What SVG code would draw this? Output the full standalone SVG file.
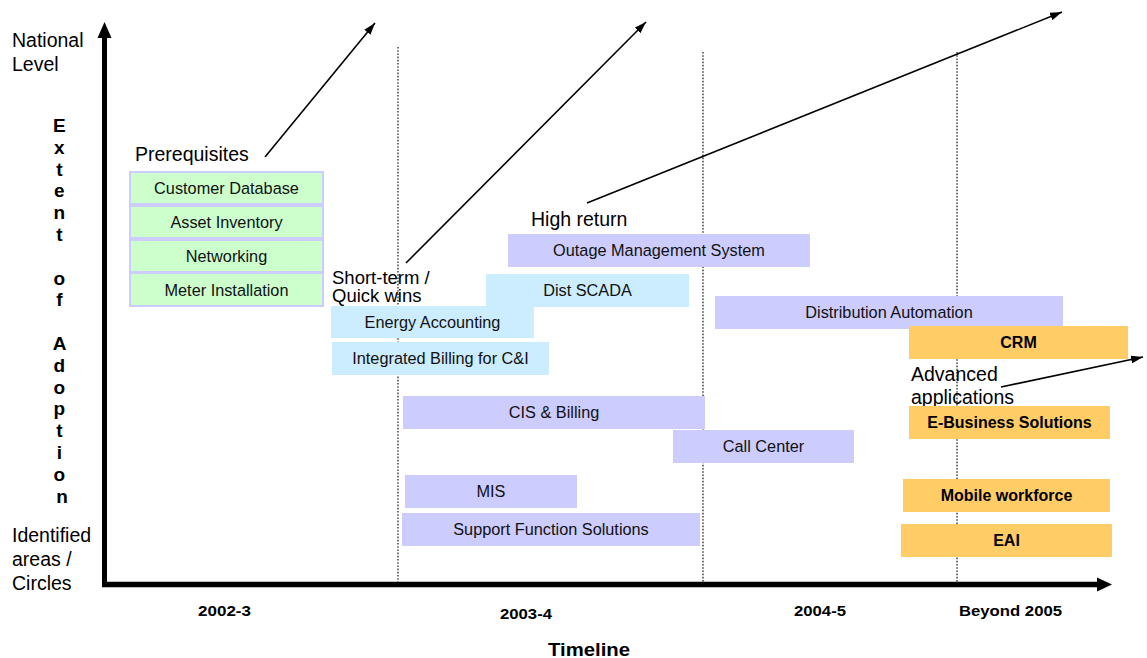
<svg xmlns="http://www.w3.org/2000/svg" width="1147" height="658" viewBox="0 0 1147 658">
  <defs>
    <marker id="head" viewBox="0 0 12 8" refX="12" refY="4" markerWidth="12" markerHeight="8" markerUnits="userSpaceOnUse" orient="auto">
      <path d="M0,0 L12,4 L0,8 Z" fill="#000"/>
    </marker>
    <style>
      text { font-family: "Liberation Sans", Arial, sans-serif; fill: #000; }
      .lbl { font-size: 19.5px; }
      .lbl-tight { font-size: 18.5px; }
      .axis-v { font-size: 19px; font-weight: bold; }
      .yr { font-size: 15.5px; font-weight: bold; }
      .box-t { font-size: 16.3px; text-anchor: middle; fill: #111; }
      .box-b { font-size: 16px; font-weight: bold; text-anchor: middle; }
      .green { fill: #CCFFCC; stroke: #CCCCFF; stroke-width: 2; }
      .blue { fill: #CCECFF; }
      .lav { fill: #CCCCFF; }
      .orange { fill: #FFCC66; }
      .grid { stroke: #000; stroke-width: 1.1; stroke-dasharray: 1.6 1.6; fill: none; }
      .trend { stroke: #000; stroke-width: 1.6; fill: none; marker-end: url(#head); }
    </style>
  </defs>

  <rect width="1147" height="658" fill="#fff"/>

  <!-- period separators -->
  <g id="grid">
    <line class="grid" x1="398" y1="47" x2="398" y2="584"/>
    <line class="grid" x1="703" y1="52" x2="703" y2="584"/>
    <line class="grid" x1="957" y1="52" x2="957" y2="584"/>
  </g>

  <!-- axes -->
  <g id="axes">
    <line x1="104.5" y1="587" x2="104.5" y2="36" stroke="#000" stroke-width="5"/>
    <polygon points="104.5,22 97.5,38 111.5,38" fill="#000"/>
    <line x1="102" y1="584.5" x2="1098" y2="584.5" stroke="#000" stroke-width="5.5"/>
    <polygon points="1112,584.5 1097,577.5 1097,591.5" fill="#000"/>
  </g>

  <!-- axis titles -->
  <g id="axis-labels">
    <text class="lbl" x="12" y="47">National</text>
    <text class="lbl" x="12" y="71">Level</text>
    <text class="lbl" x="12" y="542">Identified</text>
    <text class="lbl" x="12" y="566">areas /</text>
    <text class="lbl" x="12" y="590">Circles</text>
    <text class="axis-v" text-anchor="middle">
      <tspan x="62" y="132">E</tspan>
      <tspan x="62" y="153.8">x</tspan>
      <tspan x="62" y="175.6">t</tspan>
      <tspan x="62" y="197.4">e</tspan>
      <tspan x="62" y="219.2">n</tspan>
      <tspan x="62" y="241">t</tspan>
      <tspan x="62" y="284.6">o</tspan>
      <tspan x="62" y="306.4">f</tspan>
      <tspan x="62" y="350">A</tspan>
      <tspan x="62" y="371.8">d</tspan>
      <tspan x="62" y="393.6">o</tspan>
      <tspan x="62" y="415.4">p</tspan>
      <tspan x="62" y="437.2">t</tspan>
      <tspan x="62" y="459">i</tspan>
      <tspan x="62" y="480.8">o</tspan>
      <tspan x="62" y="502.6">n</tspan>
    </text>
    <text class="yr" x="198" y="616" textLength="53" lengthAdjust="spacingAndGlyphs">2002-3</text>
    <text class="yr" x="500" y="619" textLength="52" lengthAdjust="spacingAndGlyphs">2003-4</text>
    <text class="yr" x="794" y="616" textLength="52" lengthAdjust="spacingAndGlyphs">2004-5</text>
    <text class="yr" x="959" y="616" textLength="103" lengthAdjust="spacingAndGlyphs">Beyond 2005</text>
    <text x="548" y="656" font-size="19" font-weight="bold" textLength="82" lengthAdjust="spacingAndGlyphs">Timeline</text>
  </g>

  <!-- group captions -->
  <g id="captions">
    <text class="lbl" x="135" y="161">Prerequisites</text>
    <text class="lbl-tight" x="332" y="284">Short-term /</text>
    <text class="lbl-tight" x="332" y="302">Quick wins</text>
    <text class="lbl" x="531" y="226">High return</text>
    <text class="lbl" x="911" y="381">Advanced</text>
    <text class="lbl" x="911" y="404">applications</text>
  </g>

  <!-- trend arrows -->
  <g id="connectors">
    <line class="trend" x1="265" y1="157" x2="375" y2="23"/>
    <line class="trend" x1="406" y1="263" x2="646" y2="22"/>
    <line class="trend" x1="587" y1="203" x2="1062" y2="12"/>
    <line class="trend" x1="1001" y1="387" x2="1143" y2="357"/>
  </g>

  <!-- prerequisites -->
  <g id="customer-database">
    <rect class="green" x="130" y="172" width="193" height="32"/>
    <text class="box-t" x="226.5" y="194">Customer Database</text>
  </g>
  <g id="asset-inventory">
    <rect class="green" x="130" y="206" width="193" height="32"/>
    <text class="box-t" x="226.5" y="227.5">Asset Inventory</text>
  </g>
  <g id="networking">
    <rect class="green" x="130" y="240" width="193" height="32"/>
    <text class="box-t" x="226.5" y="261.5">Networking</text>
  </g>
  <g id="meter-installation">
    <rect class="green" x="130" y="273" width="193" height="33"/>
    <text class="box-t" x="226.5" y="296">Meter Installation</text>
  </g>

  <!-- short-term / quick wins -->
  <g id="dist-scada">
    <rect class="blue" x="486" y="274" width="203" height="33"/>
    <text class="box-t" x="587.5" y="296">Dist SCADA</text>
  </g>
  <g id="energy-accounting">
    <rect class="blue" x="331" y="306" width="203" height="32"/>
    <text class="box-t" x="432.5" y="328">Energy Accounting</text>
  </g>
  <g id="integrated-billing">
    <rect class="blue" x="332" y="342" width="217" height="33"/>
    <text class="box-t" x="440.5" y="364">Integrated Billing for C&amp;I</text>
  </g>

  <!-- high return -->
  <g id="outage-management">
    <rect class="lav" x="508" y="234" width="302" height="33"/>
    <text class="box-t" x="659" y="256">Outage Management System</text>
  </g>
  <g id="distribution-automation">
    <rect class="lav" x="715" y="296" width="348" height="33"/>
    <text class="box-t" x="889" y="318">Distribution Automation</text>
  </g>
  <g id="cis-billing">
    <rect class="lav" x="403" y="396" width="302" height="33"/>
    <text class="box-t" x="554" y="418">CIS &amp; Billing</text>
  </g>
  <g id="call-center">
    <rect class="lav" x="673" y="430" width="181" height="33"/>
    <text class="box-t" x="763.5" y="452">Call Center</text>
  </g>
  <g id="mis">
    <rect class="lav" x="405" y="475" width="172" height="33"/>
    <text class="box-t" x="491" y="497">MIS</text>
  </g>
  <g id="support-functions">
    <rect class="lav" x="402" y="513" width="298" height="33"/>
    <text class="box-t" x="551" y="535">Support Function Solutions</text>
  </g>

  <!-- advanced applications -->
  <g id="crm">
    <rect class="orange" x="909" y="326" width="219" height="33"/>
    <text class="box-b" x="1018.5" y="348">CRM</text>
  </g>
  <g id="e-business">
    <rect class="orange" x="909" y="406" width="201" height="33"/>
    <text class="box-b" x="1009.5" y="428">E-Business Solutions</text>
  </g>
  <g id="mobile-workforce">
    <rect class="orange" x="903" y="479" width="207" height="33"/>
    <text class="box-b" x="1006.5" y="501">Mobile workforce</text>
  </g>
  <g id="eai">
    <rect class="orange" x="901" y="524" width="211" height="33"/>
    <text class="box-b" x="1006.5" y="546">EAI</text>
  </g>
</svg>
